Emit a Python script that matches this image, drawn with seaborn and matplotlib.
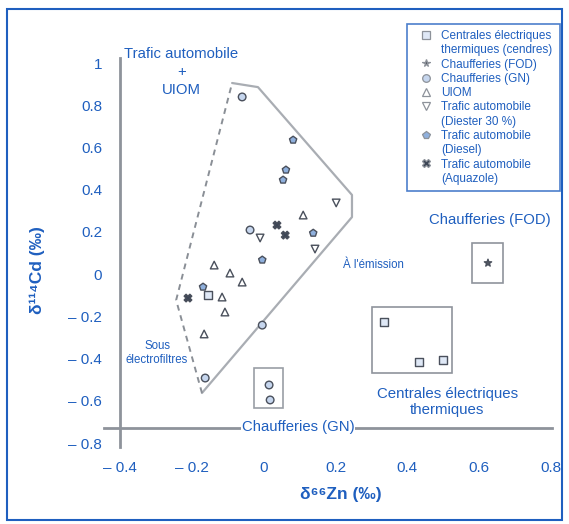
import matplotlib
matplotlib.use("Agg")
import matplotlib.pyplot as plt
import matplotlib.transforms as mtransforms
from matplotlib.lines import Line2D
from matplotlib.patches import Rectangle
from matplotlib.ticker import MultipleLocator
import pandas as pd
import seaborn as sns

# ---------------- data ----------------
CENT = "Centrales électriques thermiques (cendres)"
FOD = "Chaufferies (FOD)"
GN = "Chaufferies (GN)"
UIOM = "UIOM"
DIESTER = "Trafic automobile (Diester 30 %)"
DIESEL = "Trafic automobile (Diesel)"
AQUA = "Trafic automobile (Aquazole)"
categories = [CENT, FOD, GN, UIOM, DIESTER, DIESEL, AQUA]

source = [GN, DIESEL, DIESEL, DIESEL, DIESTER, UIOM, AQUA, AQUA, GN, DIESTER, DIESEL, DIESEL, DIESTER,
          UIOM, UIOM, UIOM, DIESEL, CENT, UIOM, AQUA, UIOM, UIOM, GN, GN,
          CENT, CENT, CENT, FOD, GN, GN]
d66zn = [-0.060, 0.082, 0.062, 0.054, 0.202, 0.110, 0.037, 0.060, -0.038, -0.010, -0.004, 0.138, 0.143,
         -0.138, -0.094, -0.060, -0.169, -0.155, -0.116, -0.211, -0.108, -0.166, -0.004, -0.163,
         0.335, 0.433, 0.500, 0.625, 0.015, 0.018]
d114cd = [0.815, 0.605, 0.459, 0.410, 0.298, 0.239, 0.190, 0.141, 0.166, 0.127, 0.020, 0.151, 0.073,
          -0.005, -0.044, -0.088, -0.112, -0.151, -0.161, -0.166, -0.234, -0.341, -0.298, -0.556,
          -0.283, -0.478, -0.468, 0.005, -0.590, -0.663]

# envelope "Trafic automobile + UIOM"
env_x = [-0.244, -0.088, -0.016, 0.246, 0.246, -0.172, -0.244]
env_y = [-0.176, 0.883, 0.863, 0.337, 0.229, -0.629, -0.176]

# boxes (x0, x1, y0, y1)
box_cent = (0.302, 0.525, -0.532, -0.210)
box_fod = (0.581, 0.667, -0.093, 0.102)
box_gn = (-0.028, 0.054, -0.702, -0.507)

xticks = [-0.4, -0.2, 0.0, 0.2, 0.4, 0.6, 0.8]
xtick_labels = ["– 0.4", "– 0.2", "0", "0.2", "0.4", "0.6", "0.8"]
yticks = [-0.8, -0.6, -0.4, -0.2, 0.0, 0.2, 0.4, 0.6, 0.8, 1.0]
ytick_labels = ["– 0.8", "– 0.6", "– 0.4", "– 0.2", "0", "0.2", "0.4", "0.6", "0.8", "1"]

legend_lines = [("Centrales électriques", CENT), ("thermiques (cendres)", None),
                ("Chaufferies (FOD)", FOD), ("Chaufferies (GN)", GN), ("UIOM", UIOM),
                ("Trafic automobile", DIESTER), ("(Diester 30 %)", None),
                ("Trafic automobile", DIESEL), ("(Diesel)", None),
                ("Trafic automobile", AQUA), ("(Aquazole)", None)]

df = pd.DataFrame({"source": source, "d66zn": d66zn, "d114cd": d114cd})

# ---------------- style ----------------
sns.set_style("white")
plt.rcParams["font.family"] = ["Liberation Sans", "DejaVu Sans"]

BLUE = "#1f5fbf"
AXC = "#8e939b"
EDGE = "#4a505c"
markers = {CENT: "s", FOD: "*", GN: "o", UIOM: "^", DIESTER: "v", DIESEL: "p", AQUA: "X"}
palette = {CENT: "#dfe8f6", FOD: "#555a63", GN: "#c6d6ee", UIOM: "#ffffff",
           DIESTER: "#ffffff", DIESEL: "#8fb0dd", AQUA: "#3d4656"}

fig = plt.figure(figsize=(5.69, 5.24), dpi=100)
ax = fig.add_axes([104 / 569, 1 - 446.5 / 524, 447.5 / 569, 388.5 / 524])

# envelope
ax.plot(env_x[1:6], env_y[1:6], color="#a9adb3", lw=1.6, zorder=1)
ax.plot([env_x[5], env_x[0], env_x[1]], [env_y[5], env_y[0], env_y[1]],
        color="#8a8f96", lw=1.4, ls=(0, (3, 2.5)), zorder=1)

for (x0, x1, y0, y1), ec in [(box_cent, "#8f949c"), (box_fod, "#8f949c"), (box_gn, "#9a9ea5")]:
    ax.add_patch(Rectangle((x0, y0), x1 - x0, y1 - y0, fill=False, ec=ec, lw=1.2, zorder=1))

sns.scatterplot(data=df, x="d66zn", y="d114cd", hue="source", style="source",
                hue_order=categories, style_order=categories, palette=palette,
                markers=markers, s=30, edgecolor=EDGE, linewidth=1.0, legend=False,
                ax=ax, zorder=3)

ax.set_xlim(-0.445, 0.802)
ax.set_ylim(-0.89, 1.005)
ax.set_xlabel("")
ax.set_ylabel("")
ax.spines["top"].set_visible(False)
ax.spines["right"].set_visible(False)
ax.spines["left"].set_position(("data", -0.4))
ax.spines["bottom"].set_position(("data", -0.8))
for s in ("left", "bottom"):
    ax.spines[s].set_color(AXC)
    ax.spines[s].set_linewidth(2)

ax.set_xticks(xticks, labels=xtick_labels)
ax.set_yticks(yticks, labels=ytick_labels)
ax.xaxis.set_minor_locator(MultipleLocator(0.1))
ax.yaxis.set_minor_locator(MultipleLocator(0.1))
ax.tick_params(axis="x", which="major", direction="out", length=14, width=1.6, color=AXC,
               labelsize=11, labelcolor=BLUE, pad=10)
ax.tick_params(axis="x", which="minor", direction="out", length=9, width=1.0, color="#b8bcc2")
ax.tick_params(axis="y", which="major", direction="out", length=12, width=1.6, color=AXC,
               labelsize=11, labelcolor=BLUE, pad=1)
ax.tick_params(axis="y", which="minor", direction="out", length=7, width=1.0, color="#b8bcc2")
for lab, v in zip(ax.get_yticklabels(), yticks):
    off = mtransforms.ScaledTranslation(0, -(4 + 11 * (1 - v) / 1.8) / 100, fig.dpi_scale_trans)
    lab.set_transform(lab.get_transform() + off)

# annotations
ax.text(-0.230, 0.937, "Trafic automobile\n+\nUIOM", color=BLUE, fontsize=10.7,
        ha="center", va="center", linespacing=1.4)
ax.text(0.631, 0.215, "Chaufferies (FOD)", color=BLUE, fontsize=10.7, ha="center", va="center")
ax.text(0.305, -0.005, "À l'émission", color=BLUE, fontsize=8.3, ha="center", va="center")
ax.text(-0.297, -0.434, "Sous\nélectrofiltres", color=BLUE, fontsize=8.3, ha="center",
        va="center", linespacing=1.15)
ax.text(0.511, -0.673, "Centrales électriques\nthermiques", color=BLUE, fontsize=10.8,
        ha="center", va="center", linespacing=1.27)
ax.text(0.096, -0.795, "Chaufferies (GN)", color=BLUE, fontsize=10.7, ha="center", va="center",
        bbox=dict(facecolor="white", edgecolor="none", pad=0.5), zorder=4)

fig.text(37 / 569, 1 - 270 / 524, "δ¹¹⁴Cd (‰)", rotation=90, color=BLUE, fontsize=12.5,
         fontweight="bold", ha="center", va="center")
fig.text(341 / 569, 1 - 495 / 524, "δ⁶⁶Zn (‰)", color=BLUE, fontsize=12.5,
         fontweight="bold", ha="center", va="center")

# legend
handles, labels = [], []
for text, cat in legend_lines:
    if cat is None:
        h = Line2D([], [], ls="none", marker=None)
    else:
        h = Line2D([], [], ls="none", marker=markers[cat], markersize=5.5,
                   markerfacecolor=palette[cat], markeredgecolor="#8d929a", markeredgewidth=0.9)
    handles.append(h)
    labels.append(text)
leg = ax.legend(handles, labels, loc="upper left", mode="expand",
                bbox_to_anchor=(407 / 569, 1 - 190 / 524, (560 - 407) / 569, (190 - 24) / 524),
                bbox_transform=fig.transFigure, borderaxespad=0, fontsize=8.5,
                labelcolor=BLUE, labelspacing=0.195, handlelength=2.2, handletextpad=0.2,
                borderpad=0.5, fancybox=False, frameon=True)
leg.get_frame().set_edgecolor(BLUE)
leg.get_frame().set_linewidth(1.2)

fig.patches.append(Rectangle((7 / 569, 1 - 520 / 524), (562 - 7) / 569, (520 - 9) / 524,
                             transform=fig.transFigure, fill=False, ec=BLUE, lw=1.5))

fig.savefig("out.png", dpi=100)
